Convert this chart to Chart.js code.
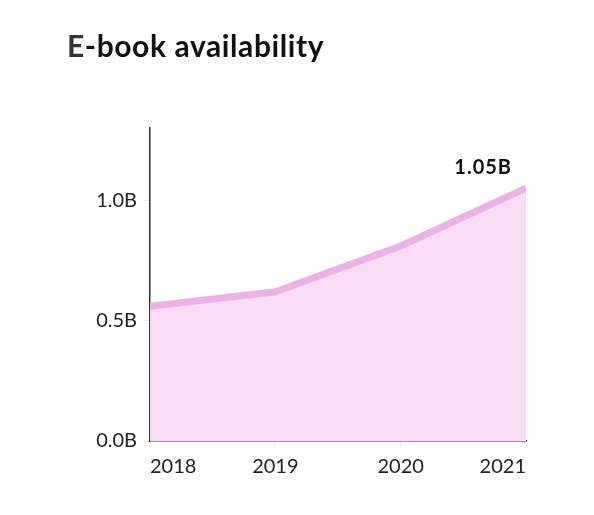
<!DOCTYPE html>
<html>
<head>
<meta charset="utf-8">
<script src="https://cdn.jsdelivr.net/npm/chart.js@4"></script>
<style>
  html, body { margin: 0; padding: 0; background: #fff; }
  #wrap { position: relative; width: 594px; height: 515px; }
</style>
</head>
<body>
<div id="wrap"><canvas id="chart" width="594" height="515"></canvas></div>
<script>
// values
const years = ['2018', '2019', '2020', '2021'];
const ebooks = [0.56, 0.62, 0.81, 1.05]; // billions
const yTicks = [0, 0.5, 1.0];

const lineColor = '#ecb1e5';
const fillColor = '#f7dcf4';

// title and end label, drawn straight on the canvas
const extras = {
  id: 'extras',
  afterDraw(chart) {
    const ctx = chart.ctx;
    ctx.save();
    ctx.textBaseline = 'alphabetic';
    ctx.textAlign = 'left';
    ctx.letterSpacing = '0.6px';
    ctx.font = '700 30px Lato';
    ctx.fillStyle = '#333';
    ctx.fillText('E', 67, 57);
    const w = ctx.measureText('E').width;
    ctx.fillStyle = '#111';
    ctx.fillText('-book availability', 67 + w, 57);

    const last = ebooks.length - 1;
    const x = chart.scales.x.getPixelForValue(last);
    const y = chart.scales.y.getPixelForValue(ebooks[last]);
    ctx.letterSpacing = '1px';
    ctx.font = '700 20px Lato';
    ctx.textAlign = 'right';
    ctx.fillText(ebooks[last].toFixed(2) + 'B', x - 14, y - 14);
    ctx.restore();
  }
};

new Chart(document.getElementById('chart'), {
  type: 'line',
  data: {
    labels: years,
    datasets: [{
      data: ebooks,
      borderColor: lineColor,
      backgroundColor: fillColor,
      borderWidth: 7,
      fill: 'origin',
      pointRadius: 0,
      tension: 0,
      clip: 0
    }]
  },
  options: {
    responsive: false,
    animation: false,
    devicePixelRatio: 1,
    layout: { padding: { top: 128, right: 68, bottom: 0, left: 0 } },
    plugins: { legend: { display: false }, tooltip: { enabled: false } },
    scales: {
      x: {
        offset: false,
        border: { color: '#333', width: 1.5 },
        grid: { drawOnChartArea: false, color: '#e8e8e8', tickLength: 6 },
        ticks: {
          align: 'inner',
          color: '#222',
          padding: 8,
          font: { family: 'Lato', size: 20 },
          maxRotation: 0
        },
        afterFit(scale) { scale.height = 74; }
      },
      y: {
        min: 0,
        max: 1.3,
        border: { color: '#333', width: 1.5 },
        grid: { drawOnChartArea: false, color: '#e8e8e8', tickLength: 6 },
        afterBuildTicks(scale) { scale.ticks = yTicks.map(v => ({ value: v })); },
        ticks: {
          color: '#222',
          padding: 7,
          font: { family: 'Lato', size: 20 },
          callback: v => v.toFixed(1) + 'B'
        },
        afterFit(scale) { scale.width = 150; }
      }
    }
  },
  plugins: [extras]
});
</script>
</body>
</html>
